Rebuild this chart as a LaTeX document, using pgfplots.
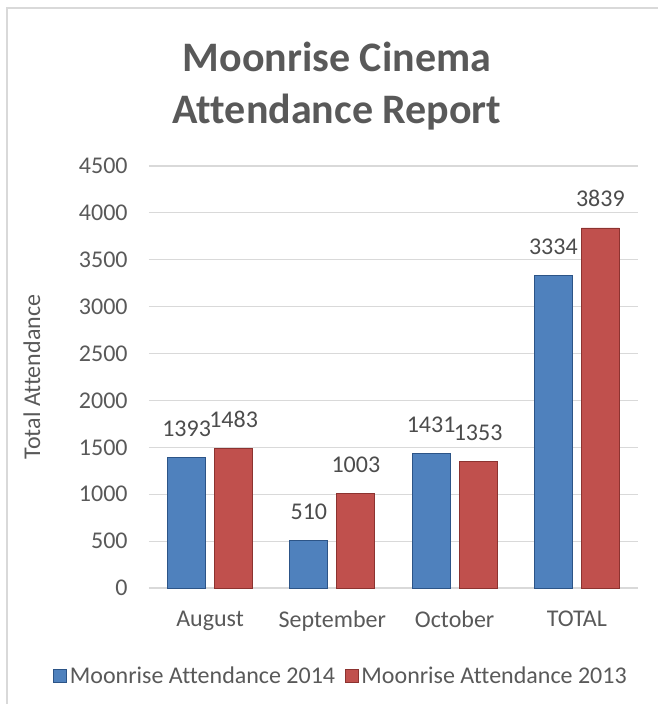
\documentclass[border=0pt]{standalone}
\usepackage{fontspec}
\setmainfont{Carlito}[Ligatures=NoCommon]
\usepackage{pgfplots}
\pgfplotsset{compat=1.18}

\definecolor{barblue}{HTML}{4F81BD}
\definecolor{barbluedark}{HTML}{2C5487}
\definecolor{barred}{HTML}{C0504D}
\definecolor{barreddark}{HTML}{8C3330}
\definecolor{txtgray}{HTML}{595959}
\definecolor{gridgray}{HTML}{D9D9D9}

\begin{document}
\begin{tikzpicture}[x=0.75pt,y=0.75pt]
% picture = 658 x 704 px, axis origin at px (149,588)
\useasboundingbox (-149,-116) rectangle (509,588);
\draw[gridgray,line width=0.9pt] (-142,-116) -- (-142,580) -- (509,580);

\begin{axis}[
    at={(0,0)}, anchor=south west,
    scale only axis,
    width=366.75pt, height=316.5pt,
    ybar=6.75pt,
    bar width=28.5pt,
    xmin=-0.5, xmax=3.5,
    ymin=0, ymax=4500,
    xtick=data,
    xticklabels={August, September, October, TOTAL},
    ytick={0,500,...,4500},
    axis x line*=bottom,
    axis y line*=left,
    y axis line style={draw=none},
    x axis line style={gridgray, line width=0.9pt},
    major tick length=0pt,
    ymajorgrids=true,
    grid style={gridgray, line width=0.9pt},
    tick label style={font=\fontsize{18}{21}\selectfont, text=txtgray},
    /pgf/number format/assume math mode=true,
    /pgf/number format/1000 sep={},
    yticklabel style={anchor=east, xshift=-12.5pt},
    xticklabel style={anchor=north, yshift=-13.5pt},
    nodes near coords,
    nodes near coords style={font=\fontsize{18}{21}\selectfont, text=txtgray!85!black, anchor=south, yshift=12pt,
        /pgf/number format/fixed, /pgf/number format/1000 sep={}},
    legend style={at={(0.393,-0.2085)}, anchor=center, draw=none, fill=none,
        legend columns=2, font=\fontsize{18}{21}\selectfont, text=txtgray,
        /tikz/every even column/.append style={column sep=5pt},
        inner sep=0pt},
    legend image code/.code={\fill[#1] (0pt,-4.9pt) rectangle (10pt,4.9pt);},
    clip=false,
]
\addplot[draw=barbluedark, line width=0.7pt, fill=barblue]
    coordinates {(0,1393) (1,510) (2,1431) (3,3334)};
\addplot[draw=barreddark, line width=0.7pt, fill=barred]
    coordinates {(0,1483) (1,1003) (2,1353) (3,3839)};
\legend{Moonrise Attendance 2014, Moonrise Attendance 2013}
\end{axis}

\node[font=\bfseries\fontsize{31.5}{39}\selectfont, text=txtgray, align=center] at (188,501.5)
    {Moonrise Cinema\\Attendance Report};
\node[font=\fontsize{18}{21}\selectfont, text=txtgray, rotate=90] at (-117,211) {Total Attendance};
\end{tikzpicture}
\end{document}
